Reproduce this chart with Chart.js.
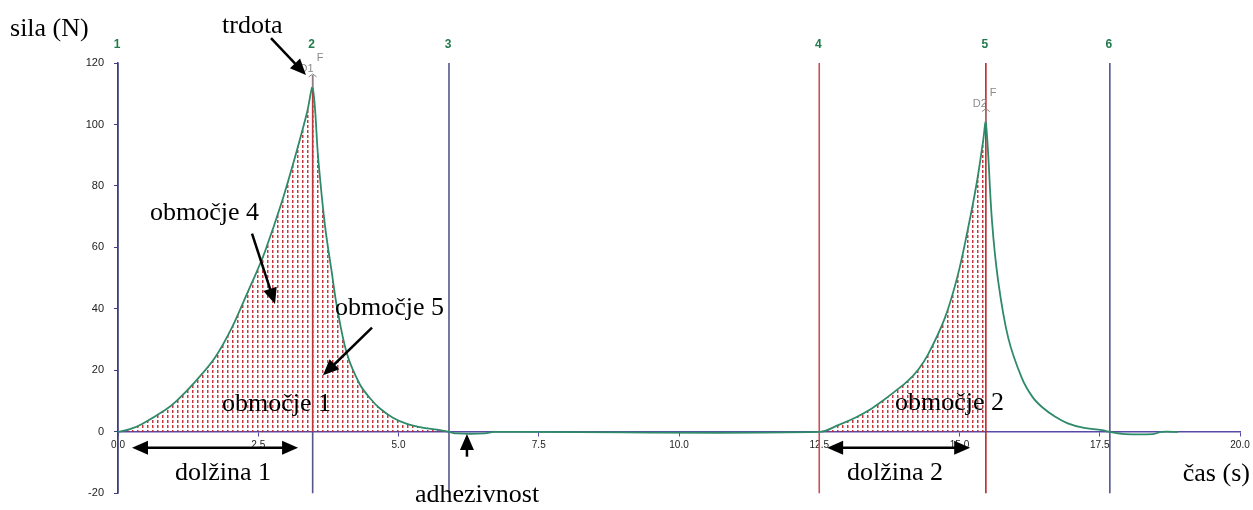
<!DOCTYPE html>
<html>
<head>
<meta charset="utf-8">
<script src="https://cdn.jsdelivr.net/npm/chart.js@4.4.1/dist/chart.umd.min.js"></script>
<style>
  body { margin: 0; background: #fff; }
  #wrap { width: 1253px; height: 510px; }
</style>
</head>
<body>
<div id="wrap"><canvas id="tpaChart" width="1253" height="510"></canvas></div>
<script>
// podatki: čas (s) in sila (N), odčitano s slike
const timeS = [0, 0.20, 0.43, 0.84, 1.05, 1.37, 1.73, 2.03, 2.32, 2.47, 2.62, 2.92, 3.16, 3.37, 3.47,
  3.57, 3.69, 3.81, 3.90, 4.08, 4.31, 4.50, 4.67, 4.90, 5.15, 5.45, 5.74, 5.90, 6.04, 6.54, 6.70,
  12.50, 12.85, 13.14, 13.40, 13.62, 13.85, 14.08, 14.27, 14.44, 14.74, 14.97, 15.15, 15.31, 15.42, 15.47,
  15.58, 15.69, 15.87, 16.11, 16.30, 16.47, 16.70, 16.93, 17.20, 17.54, 17.68, 17.95, 18.45, 18.60, 18.90];
const forceN = [0, 0.8, 2.6, 7.1, 10.2, 16.2, 24.2, 33.9, 45.8, 52, 58.7, 74.8, 89.7, 103.9, 111.9,
  88.7, 67, 52, 41, 25.5, 15.5, 10.8, 7.6, 4.6, 2.6, 1.3, 0.6, 0, -0.5, -0.5, 0,
  0, 2.3, 4.6, 7.2, 10.0, 13.2, 16.6, 20.4, 25.2, 37.1, 51, 66, 81.3, 94.5, 100.6,
  68.4, 49, 30.5, 17.6, 11.4, 8.1, 5.0, 2.8, 1.4, 0.6, 0, -0.7, -0.7, 0, 0];

// označevalci (1..6)
const eventTimes = [0, 3.47, 5.90, 12.50, 15.47, 17.68];
const eventLabels = ['1', '2', '3', '4', '5', '6'];
const eventTops = [120, 116, 120, 120, 120, 120];

const xMin = 0, xMax = 20, xStep = 2.5;
const yMin = -20, yMax = 120, yStep = 20;

const NAVY = '#55558a';
const RED = '#c0343c';
const CURVE = '#2f8a6a';

// crtkan rdeč vzorec za površine
function makeHatch() {
    const c = document.createElement('canvas');
    c.width = 5; c.height = 5;
    const g = c.getContext('2d');
    g.fillStyle = 'rgba(192, 32, 40, 0.9)';
    g.fillRect(2, 0, 1.5, 3);
    return g.createPattern(c, 'repeat');
}
const hatch = makeHatch();

const points = timeS.map((t, i) => ({ x: t, y: forceN[i] }));
const area1 = points.filter(p => p.x >= eventTimes[0] && p.x <= eventTimes[2]);
const area2 = points.filter(p => p.x >= eventTimes[3] && p.x <= eventTimes[4]);

const lineColors = [NAVY, RED, NAVY, '#c8505a', '#b82a2a', NAVY];
const eventSets = eventTimes.map((t, i) => ({
    label: 'line' + eventLabels[i],
    data: [{ x: t, y: yMin }, { x: t, y: 0 }, { x: t, y: eventTops[i] }],
    borderColor: lineColors[i],
    borderWidth: 1.6,
    pointRadius: 0,
    fill: false,
    order: 2,
    segment: i === 1 ? { borderColor: ctx => ctx.p0.parsed.y >= 0 ? RED : NAVY } : undefined
}));

// besedila in puščice (v enotah grafa)
const notes = [
    { text: 'sila (N)', t: -1.925, f: 128.7 },
    { text: 'trdota', t: 1.854, f: 129.7 },
    { text: 'območje 4', t: 0.57, f: 69.0 },
    { text: 'območje 5', t: 3.868, f: 38.1 },
    { text: 'območje 1', t: 1.854, f: 6.8 },
    { text: 'območje 2', t: 13.85, f: 7.1 },
    { text: 'dolžina 1', t: 1.016, f: -15.8 },
    { text: 'dolžina 2', t: 12.995, f: -15.8 },
    { text: 'adhezivnost', t: 5.294, f: -22.9 },
    { text: 'čas (s)', t: 18.98, f: -16.1 }
];
const arrows = [
    { from: [2.727, 128.1], to: [3.351, 116.1], both: false },
    { from: [2.389, 64.5], to: [2.799, 41.6], both: false },
    { from: [4.528, 33.9], to: [3.654, 18.4], both: false },
    { from: [0.25, -5.16], to: [3.21, -5.16], both: true },
    { from: [12.64, -5.16], to: [15.19, -5.16], both: true },
    { from: [6.22, -8.06], to: [6.22, -0.65], both: false }
];
const peakTags = ['D1', 'D2'];

function arrowHead(g, x0, y0, x1, y1) {
    const a = Math.atan2(y1 - y0, x1 - x0);
    const len = 16, w = 7;
    g.beginPath();
    g.moveTo(x1, y1);
    g.lineTo(x1 - len * Math.cos(a) + w * Math.sin(a), y1 - len * Math.sin(a) - w * Math.cos(a));
    g.lineTo(x1 - len * Math.cos(a) - w * Math.sin(a), y1 - len * Math.sin(a) + w * Math.cos(a));
    g.closePath();
    g.fill();
}

const notesPlugin = {
    id: 'notes',
    afterDraw(chart) {
        const g = chart.ctx;
        const xs = chart.scales.x, ys = chart.scales.y;
        const px = t => xs.getPixelForValue(t);
        const py = f => ys.getPixelForValue(f);
        g.save();

        // številke označevalcev
        g.fillStyle = '#1f7a4c';
        g.font = 'bold 12px "Liberation Sans", Arial, sans-serif';
        g.textAlign = 'center';
        g.textBaseline = 'middle';
        eventTimes.forEach((t, i) => g.fillText(eventLabels[i], px(t) - 1, chart.chartArea.top - 18));

        // vrhova oznaka (D1, D2, F)
        const cycles = [[eventTimes[0], eventTimes[2]], [eventTimes[3], eventTimes[5]]];
        cycles.forEach((c, k) => {
            const seg = points.filter(p => p.x >= c[0] && p.x <= c[1]);
            const pk = seg.reduce((a, b) => (b.y > a.y ? b : a));
            const x = px(pk.x), y = py(pk.y);
            g.strokeStyle = '#8a8a8a';
            g.lineWidth = 1;
            g.beginPath();
            g.moveTo(x, y); g.lineTo(x, y - 13);
            g.moveTo(x - 4, y - 11); g.lineTo(x, y - 14); g.lineTo(x + 4, y - 11);
            g.stroke();
            g.fillStyle = '#8a8a8a';
            g.font = '11px "Liberation Sans", Arial, sans-serif';
            g.textAlign = 'right';
            g.fillText(peakTags[k], x + 1, y - 19);
            g.textAlign = 'left';
            g.fillText('F', x + 4, y - 30);
        });

        // besedila
        g.fillStyle = '#000';
        g.font = '26px "Liberation Serif", "Times New Roman", serif';
        g.textAlign = 'left';
        g.textBaseline = 'alphabetic';
        notes.forEach(n => g.fillText(n.text, px(n.t), py(n.f)));

        // puščice
        g.strokeStyle = '#000';
        g.lineWidth = 2.5;
        arrows.forEach(a => {
            const x0 = px(a.from[0]), y0 = py(a.from[1]);
            const x1 = px(a.to[0]), y1 = py(a.to[1]);
            const ang = Math.atan2(y1 - y0, x1 - x0);
            const sx = a.both ? x0 + 12 * Math.cos(ang) : x0;
            const sy = a.both ? y0 + 12 * Math.sin(ang) : y0;
            g.beginPath();
            g.moveTo(sx, sy);
            g.lineTo(x1 - 12 * Math.cos(ang), y1 - 12 * Math.sin(ang));
            g.stroke();
            arrowHead(g, x0, y0, x1, y1);
            if (a.both) arrowHead(g, x1, y1, x0, y0);
        });
        g.restore();
    }
};

const ctx = document.getElementById('tpaChart').getContext('2d');
const tpaChart = new Chart(ctx, {
    type: 'line',
    data: {
        datasets: [
            {
                label: 'sila',
                data: points,
                borderColor: CURVE,
                borderWidth: 1.8,
                pointRadius: 0,
                tension: 0.35,
                fill: false,
                order: 1
            },
            {
                label: 'območje 1',
                data: area1,
                borderWidth: 0,
                pointRadius: 0,
                tension: 0.35,
                backgroundColor: hatch,
                fill: 'origin',
                order: 3
            },
            {
                label: 'območje 2',
                data: area2,
                borderWidth: 0,
                pointRadius: 0,
                tension: 0.35,
                backgroundColor: hatch,
                fill: 'origin',
                order: 3
            },
            ...eventSets
        ]
    },
    options: {
        responsive: false,
        animation: false,
        layout: { padding: { left: 0, top: 63, right: 13, bottom: 13 } },
        plugins: {
            legend: { display: false },
            tooltip: { enabled: false }
        },
        scales: {
            x: {
                type: 'linear',
                position: { y: 0 },
                min: xMin,
                max: xMax,
                border: { color: '#5a4aa8', width: 1.5 },
                grid: { drawOnChartArea: false, tickLength: 4, color: '#5a4aa8' },
                ticks: {
                    stepSize: xStep,
                    padding: 3,
                    color: '#222',
                    font: { size: 10, family: '"Liberation Sans", Arial, sans-serif' },
                    callback: v => Number(v).toFixed(1)
                }
            },
            y: {
                type: 'linear',
                position: 'left',
                min: yMin,
                max: yMax,
                afterFit: s => { s.width = 118; },
                border: { color: '#3c3c8c', width: 1.5 },
                grid: { drawOnChartArea: false, tickLength: 4, color: '#3c3c8c' },
                ticks: {
                    stepSize: yStep,
                    padding: 10,
                    color: '#222',
                    font: { size: 11, family: '"Liberation Sans", Arial, sans-serif' }
                }
            }
        }
    },
    plugins: [notesPlugin]
});
</script>
</body>
</html>
